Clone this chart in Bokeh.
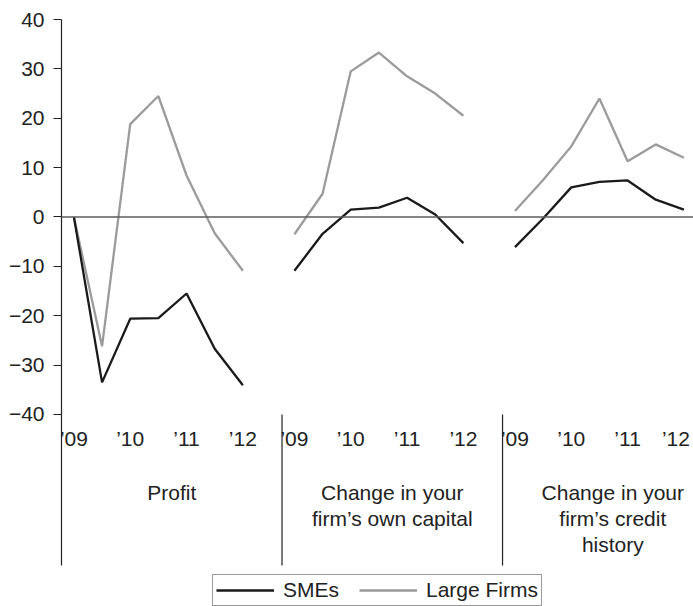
from bokeh.plotting import figure
from bokeh.models import FixedTicker, Span, Legend, LegendItem, Range1d
from bokeh.core.properties import value
from bokeh.embed import file_html
from bokeh.resources import INLINE

# ---- data ----
panels = ["Profit", "Change in your\nfirm\u2019s own capital", "Change in your\nfirm\u2019s credit\nhistory"]
year_labels = ["\u201909", "\u201910", "\u201911", "\u201912"]
sme_profit = [0, -33.5, -20.6, -20.5, -15.5, -26.7, -34.1]
large_profit = [0, -26.2, 18.8, 24.5, 8.4, -3.3, -10.9]
sme_capital = [-10.9, -3.4, 1.5, 1.9, 3.9, 0.5, -5.3]
large_capital = [-3.5, 4.7, 29.5, 33.3, 28.5, 25.0, 20.5]
sme_credit = [-6.1, -0.3, 6.0, 7.1, 7.4, 3.5, 1.5]
large_credit = [1.2, 7.5, 14.3, 24.0, 11.3, 14.7, 12.0]
y_ticks = [-40, -30, -20, -10, 0, 10, 20, 30, 40]

sme_series = [sme_profit, sme_capital, sme_credit]
large_series = [large_profit, large_capital, large_credit]

# ---- layout constants ----
W = 7.83      # width of one panel in x units (one unit = half a year)
OFF = 0.44    # offset of first point from panel start
X_END = 22.44
Y_SEP = -70.6  # bottom of separators / axis line
Y_BOTTOM = -78.9
FONT = "Liberation Sans"
FS = "21px"
TXT = "#222222"
SME_C = "#1a1a1a"
LARGE_C = "#9b9b9b"

p = figure(width=693, height=606, x_range=Range1d(0, X_END), y_range=Range1d(Y_BOTTOM, 40),
           output_backend="svg", toolbar_location=None, x_axis_location=None,
           min_border_left=61, min_border_right=0, min_border_top=19, min_border_bottom=0)
p.grid.visible = False
p.outline_line_color = None
p.background_fill_color = "white"

ya = p.yaxis[0]
ya.ticker = FixedTicker(ticks=y_ticks)
ya.bounds = (Y_SEP, 40)
ya.major_label_overrides = {t: (str(t).replace("-", "\u2212")) for t in y_ticks}
ya.major_tick_out = 8
ya.major_tick_in = 0
ya.minor_tick_line_color = None
ya.axis_line_color = TXT
ya.axis_line_width = 1.2
ya.major_tick_line_color = TXT
ya.major_tick_line_width = 1.2
ya.major_label_text_font = FONT
ya.major_label_text_font_size = FS
ya.major_label_text_color = TXT
ya.major_label_standoff = 9

p.add_layout(Span(location=0, dimension="width", line_color="#5c5c5c", line_width=1.6))

sme_renderers, large_renderers = [], []
for k in range(3):
    xs = [k * W + OFF + i for i in range(7)]
    lr = p.line(xs, large_series[k], line_color=LARGE_C, line_width=2.3)
    sr = p.line(xs, sme_series[k], line_color=SME_C, line_width=2.3)
    large_renderers.append(lr)
    sme_renderers.append(sr)
    # year tick labels (the very last one is nudged left to stay inside the picture)
    tx = [k * W + OFF + 2 * j for j in range(4)]
    nudge = [0, 0, 0, -8] if k == 2 else [0, 0, 0, 0]
    p.text(tx, [-44.9] * 4, text=year_labels, text_align="center", text_baseline="middle",
           x_offset=nudge, text_font=value(FONT), text_font_size=value(FS), text_color=TXT)

# separators between panels
p.segment(x0=[W, 2 * W], y0=[-40, -40], x1=[W, 2 * W], y1=[Y_SEP, Y_SEP],
          line_color=TXT, line_width=1.2)

# panel names
p.text([k * W + W / 2 for k in range(3)], [-53.4] * 3, text=panels, text_align="center",
       text_baseline="top", text_font=value(FONT), text_font_size=value(FS), text_color=TXT,
       text_line_height=1.15)

legend = Legend(items=[LegendItem(label="SMEs", renderers=[sme_renderers[0]]),
                       LegendItem(label="Large Firms", renderers=[large_renderers[0]])],
                orientation="horizontal", location="bottom_center")
legend.margin = 0
legend.padding = 3
legend.spacing = 20
legend.glyph_width = 58
legend.glyph_height = 16
legend.label_height = 16
legend.label_standoff = 9
legend.label_text_font = FONT
legend.label_text_font_size = FS
legend.label_text_color = TXT
legend.border_line_color = "#333333"
legend.border_line_width = 1
legend.background_fill_alpha = 0
p.add_layout(legend, "center")

open("out.html", "w").write(file_html(p, INLINE))
